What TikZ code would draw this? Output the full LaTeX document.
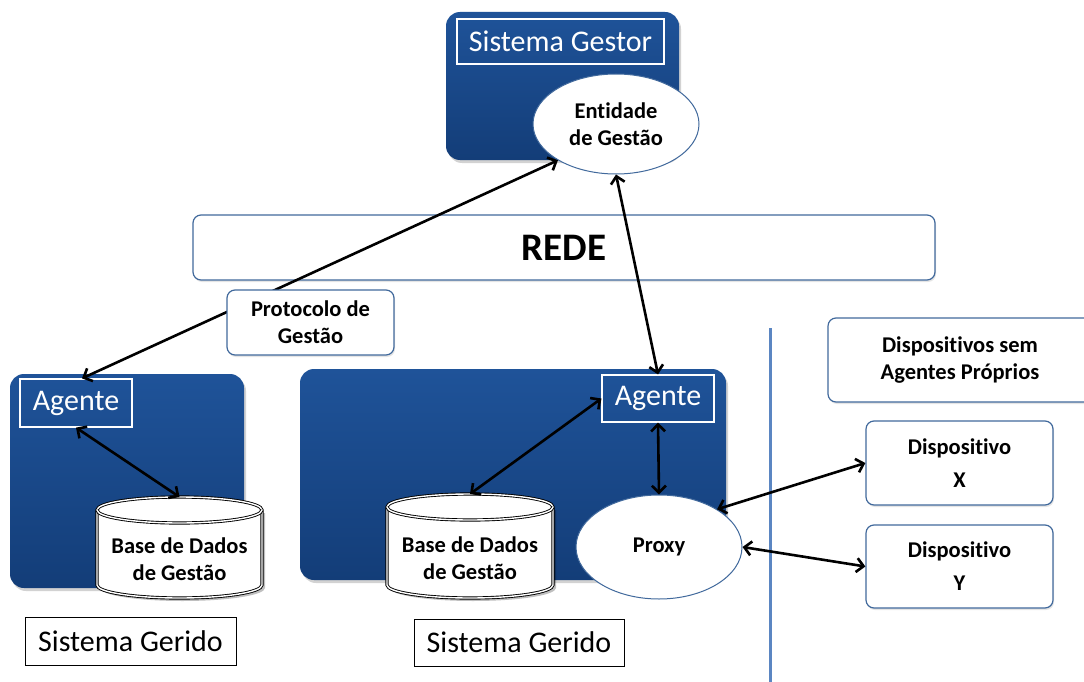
\documentclass[tikz,border=0pt]{standalone}
\usepackage{fontspec}
\setmainfont{Carlito}[Ligatures=NoCommon]
\usetikzlibrary{arrows.meta,shapes.geometric,shadows}
\definecolor{boxbluetop}{HTML}{1F5399}
\definecolor{boxbluemid}{HTML}{1B4B8D}
\definecolor{boxbluebot}{HTML}{133D78}
\definecolor{edgeblue}{HTML}{41699C}
\definecolor{divider}{HTML}{5B86C2}
\tikzset{
  bluebox/.style={rounded corners=14pt, draw=none, top color=boxbluetop, middle color=boxbluemid,
    bottom color=boxbluebot,
    drop shadow={shadow xshift=2pt, shadow yshift=-3pt, opacity=0.35}},
  titlebox/.style={draw=white, line width=1.2pt, text=white, inner sep=0pt,
    font=\fontsize{30}{32}\selectfont},
  oval/.style={ellipse, draw=edgeblue, line width=1pt, fill=white, inner sep=0pt,
    align=center, font=\fontsize{22.5}{27}\selectfont\bfseries},
  panel/.style={rounded corners=8pt, draw=edgeblue, line width=1.2pt, fill=white, align=center,
    inner sep=0pt, drop shadow={shadow xshift=1pt, shadow yshift=-2pt, opacity=0.2}},
  caption/.style={draw=black, line width=1pt, fill=white, inner sep=0pt,
    font=\fontsize{30}{32}\selectfont},
  lbl/.style={align=center, font=\fontsize{22.5}{27}\selectfont\bfseries},
  lbltall/.style={align=center, font=\fontsize{22.5}{33}\selectfont\bfseries},
  link/.style={line width=2.6pt, {Straight Barb[length=7pt,width=14pt]}-{Straight Barb[length=7pt,width=14pt]}},
  dbline/.style={draw=black, line width=0.9pt, double=white, double distance=1.4pt, fill=white},
}
% database drum: #1 left x, #2 top y, #3 width, #4 height, #5 name
\newcommand{\dbdrum}[5]{%
  \pgfmathsetmacro{\rx}{#3/2}%
  \pgfmathsetmacro{\ry}{13}%
  \pgfmathsetmacro{\xr}{#1+#3}%
  \pgfmathsetmacro{\yt}{#2+\ry}%
  \pgfmathsetmacro{\yb}{#2+#4-\ry}%
  \pgfmathsetmacro{\xc}{#1+\rx}%
  \fill[black, opacity=0.25] (#1+3,\yt+3) -- (#1+3,\yb+3) arc[start angle=180,end angle=360,x radius=\rx,y radius=-\ry] -- (\xr+3,\yt+3) -- cycle;
  \path[dbline] (#1,\yt) -- (#1,\yb) arc[start angle=180,end angle=360,x radius=\rx,y radius=-\ry]
     -- (\xr,\yt) arc[start angle=0,end angle=180,x radius=\rx,y radius=-\ry] -- cycle;
  \draw[dbline] (#1,\yt) arc[start angle=180,end angle=360,x radius=\rx,y radius=-\ry];
  \coordinate (#5-top) at (\xc,#2);
  \node[lbl] (#5) at (\xc,{(\yt+\yb)/2+12}) {Base de Dados\\de Gestão};
}
\begin{document}
\begin{tikzpicture}[x=1pt,y=-1pt]
\useasboundingbox[fill=white] (0,0) rectangle (1084,682);

% managing system
\node[bluebox, minimum width=233pt, minimum height=148pt] (sg) at (562.5,86) {};
\node[titlebox, minimum width=207pt, minimum height=45pt] (sgt) at (560.5,41.5) {Sistema Gestor};

% network band
\node[panel, minimum width=742pt, minimum height=65pt, font=\fontsize{39}{40}\selectfont\bfseries] (rede) at (564,247.5) {REDE};

% managed systems
\node[bluebox, minimum width=234pt, minimum height=214pt] (blueL) at (127,481) {};
\node[titlebox, minimum width=112pt, minimum height=48pt] (agL) at (76,403) {Agente};
\node[bluebox, minimum width=426pt, minimum height=211pt] (blueM) at (513,474.5) {};
\node[titlebox, minimum width=112pt, minimum height=47pt] (agM) at (658,398.5) {Agente};

\dbdrum{97}{497}{165}{101}{dbL}
\dbdrum{387}{494}{166}{104}{dbM}

\node[oval, minimum width=166pt, minimum height=100pt] (ent) at (616,124) {Entidade\\de Gestão};
\node[oval, minimum width=166pt, minimum height=104pt] (proxy) at (659,547) {Proxy};

\node[caption, minimum width=211pt, minimum height=48pt] (gerL) at (130.5,641) {Sistema Gerido};
\node[caption, minimum width=210pt, minimum height=47pt] (gerM) at (519,642.5) {Sistema Gerido};

% divider
\coordinate (divtop) at (770,328);
\coordinate (divbot) at (770,682);
\draw[divider, line width=3pt] (divtop) -- (divbot);

% devices without own agents
\node[panel, minimum width=264pt, minimum height=84pt, lbl] (dsa) at (960,360) {Dispositivos sem\\Agentes Próprios};
\node[panel, minimum width=187pt, minimum height=84pt, lbltall] (dx) at (959.5,463) {Dispositivo\\X};
\node[panel, minimum width=187pt, minimum height=83pt, lbltall] (dy) at (959.5,566.5) {Dispositivo\\Y};

% connectors
\coordinate (agLn) at ([xshift=6pt]agL.north);
\draw[link] (agLn) -- (ent.212);
\node[panel, minimum width=167pt, minimum height=65pt, lbl] (prot) at (310.5,322.5) {Protocolo de\\Gestão};
\draw[link] (ent.south) -- (agM.north);
\draw[link] (agL.south) -- (dbL-top);
\draw[link] (agM.west) -- (dbM-top);
\draw[link] (agM.south) -- (proxy.north);
\draw[link] (proxy.33) -- (dx.west);
\draw[link] (proxy.east) -- (dy.west);
\end{tikzpicture}
\end{document}
